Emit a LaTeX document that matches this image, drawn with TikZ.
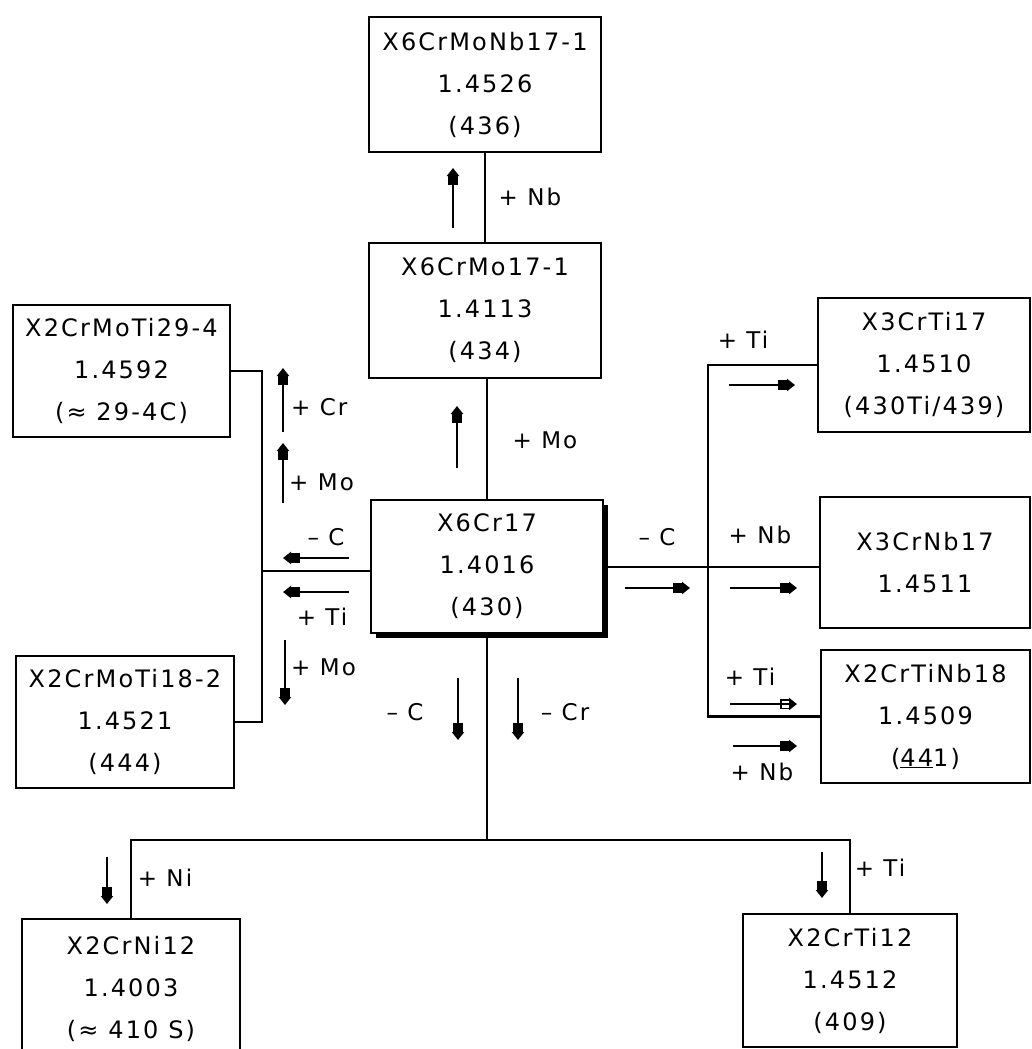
\documentclass[tikz,border=0pt]{standalone}
\usepackage{fontspec}
\setmainfont{DejaVu Sans}[LetterSpace=9.0]
\usetikzlibrary{arrows.meta,shadows}
\tikzset{
  boxtxt/.style={font=\fontsize{24}{42}\selectfont},
  alloy/.style={draw, line width=2.6pt, inner sep=0pt, outer sep=0pt, align=center, boxtxt, fill=white},
  conn/.style={line width=2.6pt},
  elarrow/.style={line width=2.6pt, -{Square[length=10pt,width=10pt,sep=-1pt]Triangle[length=8pt,width=12pt]}},
  elarrowopen/.style={line width=2.6pt, -{Square[open,length=10pt,width=10pt,line width=1.5pt,sep=-1pt]Triangle[length=8pt,width=12pt]}},
  lbl/.style={font=\fontsize{23}{26}\selectfont, inner sep=1pt},
}
\begin{document}
\begin{tikzpicture}[x=1pt,y=-1pt]
\useasboundingbox (0,0) rectangle (1032,1049);
\clip (0,0) rectangle (1032,1049);
\fill[white] (0,0) rectangle (1032,1049);

% boxes
\node[alloy, minimum width=232pt, minimum height=135pt] (b436) at (485,84.5) {X6CrMoNb17-1\\1.4526\\(436)};
\node[alloy, minimum width=232pt, minimum height=135pt] (b434) at (485,310.5) {X6CrMo17-1\\1.4113\\(434)};
\node[alloy, minimum width=232pt, minimum height=133pt,
      drop shadow={opacity=1, fill=black, shadow xshift=5pt, shadow yshift=-5pt}] (b430) at (487,566.5) {X6Cr17\\1.4016\\(430)};
\node[alloy, minimum width=217pt, minimum height=132pt] (b4592) at (121.5,371) {X2CrMoTi29-4\\1.4592\\(≈ 29-4C)};
\node[alloy, minimum width=218pt, minimum height=132pt] (b4521) at (125,722) {X2CrMoTi18-2\\1.4521\\(444)};
\node[alloy, minimum width=212pt, minimum height=134pt] (b4510) at (924,365) {X3CrTi17\\1.4510\\(430Ti/439)};
\node[alloy, minimum width=210pt, minimum height=131pt] (b4511) at (925,562.5) {X3CrNb17\\1.4511};
\node[alloy, minimum width=209pt, minimum height=133pt] (b4509) at (925.5,716.5) {X2CrTiNb18\\1.4509\\(\underline{44}1)};
\node[alloy, minimum width=218pt, minimum height=140pt] (b4003) at (131,989) {X2CrNi12\\1.4003\\(≈ 410 S)};
\node[alloy, minimum width=214pt, minimum height=133pt] (b4512) at (850,980.5) {X2CrTi12\\1.4512\\(409)};

% junction coordinates
\coordinate (jL) at (262,571);
\coordinate (jR) at (708,567);
\coordinate (jB) at (487,840);

% connectors
\draw[conn] (b434.north) -- (b436.south);
\draw[conn] (b430.north) -- (b430.north |- b434.south);
\draw[conn] (b430.west |- jL) -- (jL);
\draw[conn] (b4592.east) -| (jL) |- (b4521.east);
\draw[conn] (b430.east |- jR) -- (b4511.west |- jR);
\draw[conn] (b4510.west) -| (jR) |- (b4509.west);
\draw[conn] (b430.south) -- (jB);
\draw[conn] (b4003.north) |- (jB) -| (b4512.north);

% element markers and labels
\draw[elarrow] (453,228) -- (453,168);
\node[lbl] (lNb1) at (530,197) {+ Nb};
\draw[elarrow] (457,468) -- (457,406);
\node[lbl] (lMo1) at (545,440) {+ Mo};
\draw[elarrow] (283,432) -- (283,368);
\node[lbl, anchor=west] (lCr1) at (290,407) {+ Cr};
\draw[elarrow] (283,503) -- (283,443);
\node[lbl, anchor=west] (lMo2) at (288,482) {+ Mo};
\draw[elarrow] (349,558) -- (283,558);
\node[lbl] (lC1) at (326,537) {– C};
\draw[elarrow] (349,592) -- (283,592);
\node[lbl] (lTi1) at (322,617) {+ Ti};
\draw[elarrow] (285,640) -- (285,705);
\node[lbl, anchor=west] (lMo3) at (290,667) {+ Mo};
\draw[elarrow] (458,678) -- (458,740);
\node[lbl] (lC2) at (405,712) {– C};
\draw[elarrow] (518,678) -- (518,740);
\node[lbl] (lCr2) at (565,712) {– Cr};
\draw[elarrow] (625,588) -- (690,588);
\node[lbl] (lC3) at (657,537) {– C};
\draw[elarrow] (730,588) -- (797,588);
\node[lbl] (lNb2) at (760,535) {+ Nb};
\draw[elarrow] (729,385) -- (795,385);
\node[lbl] (lTi2) at (743,340) {+ Ti};
\draw[elarrowopen] (730,704) -- (797,704);
\node[lbl] (lTi3) at (750,677) {+ Ti};
\draw[elarrow] (733,746) -- (797,746);
\node[lbl] (lNb3) at (762,772) {+ Nb};
\draw[elarrow] (107,857) -- (107,904);
\node[lbl] (lNi) at (165,878) {+ Ni};
\draw[elarrow] (822,852) -- (822,898);
\node[lbl] (lTi4) at (880,868) {+ Ti};
\end{tikzpicture}
\end{document}
